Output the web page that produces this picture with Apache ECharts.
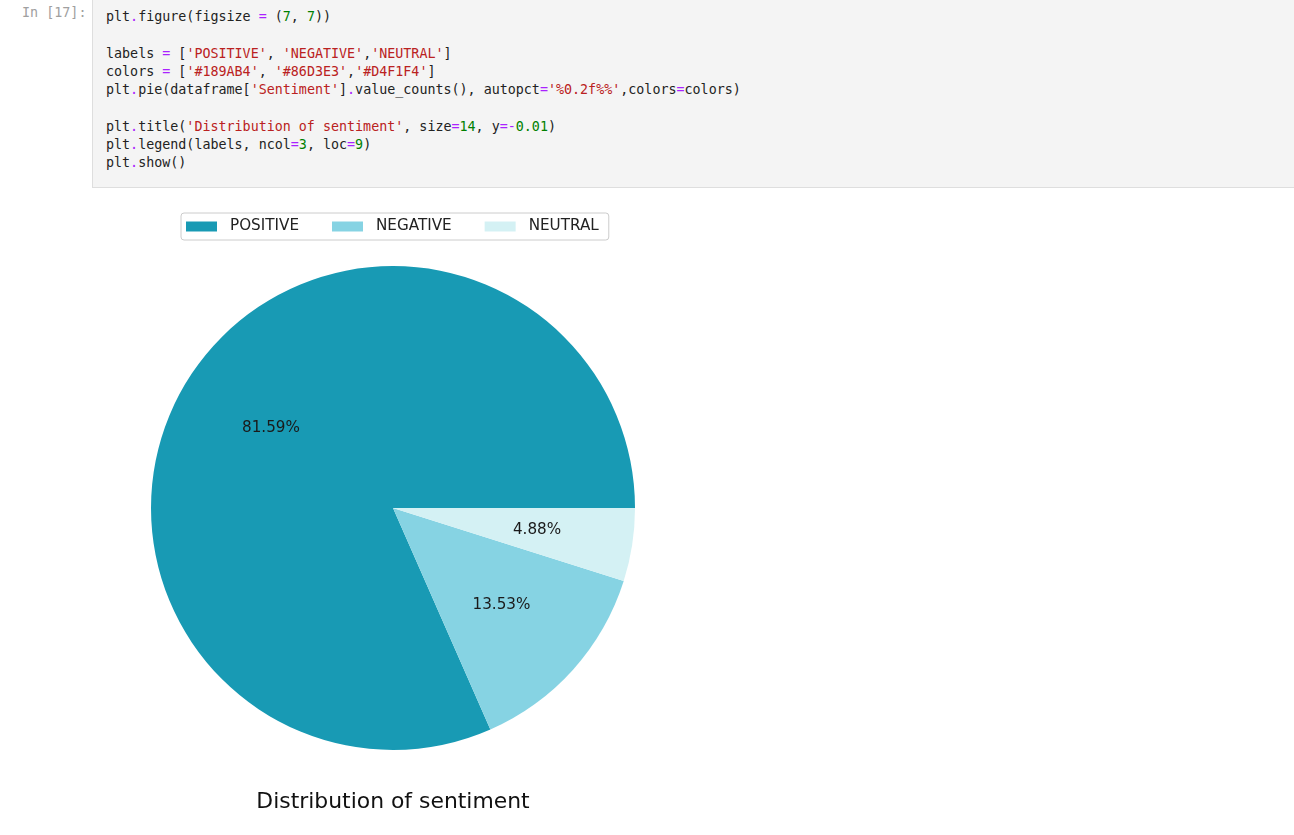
<!DOCTYPE html>
<html>
<head>
<meta charset="utf-8">
<script src="https://cdn.jsdelivr.net/npm/echarts@6/dist/echarts.min.js"></script>
<style>
  html, body { margin: 0; padding: 0; background: #ffffff; width: 1294px; height: 835px; overflow: hidden; }
  #prompt { position: absolute; left: 22px; top: 4px; font-family: "DejaVu Sans Mono", monospace; font-size: 13.4px; color: #a0a0a0; line-height: 18px; }
  #cell { position: absolute; left: 92px; top: -1px; width: 1206px; height: 189px; background: #f4f4f4; border: 1px solid #dedede; box-sizing: border-box; }
  #code { position: absolute; left: 13px; top: 8px; margin: 0; font-family: "DejaVu Sans Mono", monospace; font-size: 13.35px; line-height: 18.25px; color: #222; white-space: pre; }
  .o { color: #aa22ff; } .s { color: #ba2121; } .n { color: #008000; }
  #chart { position: absolute; left: 0; top: 188px; width: 1294px; height: 647px; }
</style>
</head>
<body>
<div id="prompt">In [17]:</div>
<div id="cell"><pre id="code">plt<span class="o">.</span>figure(figsize <span class="o">=</span> (<span class="n">7</span>, <span class="n">7</span>))

labels <span class="o">=</span> [<span class="s">'POSITIVE'</span>, <span class="s">'NEGATIVE'</span>,<span class="s">'NEUTRAL'</span>]
colors <span class="o">=</span> [<span class="s">'#189AB4'</span>, <span class="s">'#86D3E3'</span>,<span class="s">'#D4F1F4'</span>]
plt<span class="o">.</span>pie(dataframe[<span class="s">'Sentiment'</span>]<span class="o">.</span>value_counts(), autopct<span class="o">=</span><span class="s">'%0.2f%%'</span>,colors<span class="o">=</span>colors)

plt<span class="o">.</span>title(<span class="s">'Distribution of sentiment'</span>, size<span class="o">=</span><span class="n">14</span>, y<span class="o">=-</span><span class="n">0.01</span>)
plt<span class="o">.</span>legend(labels, ncol<span class="o">=</span><span class="n">3</span>, loc<span class="o">=</span><span class="n">9</span>)
plt<span class="o">.</span>show()</pre></div>
<div id="chart"></div>
<script>
const labels = ['POSITIVE', 'NEGATIVE', 'NEUTRAL'];
const values = [81.59, 13.53, 4.88];
const colors = ['#189AB4', '#86D3E3', '#D4F1F4'];
const titleText = 'Distribution of sentiment';

const chart = echarts.init(document.getElementById('chart'), null, { renderer: 'canvas' });
const FONT = '"DejaVu Sans", sans-serif';
const cx = 393, cy = 320, R = 242;
const data = labels.map((name, i) => ({ name: name, value: values[i], itemStyle: { color: colors[i] } }));

chart.setOption({
  animation: false,
  backgroundColor: '#ffffff',
  legend: {
    data: labels,
    left: 181, top: 25,
    orient: 'horizontal',
    icon: 'rect',
    itemWidth: 31, itemHeight: 10, itemGap: 33,
    padding: [6, 10, 6, 5],
    borderColor: '#cccccc', borderWidth: 1, borderRadius: 3,
    backgroundColor: 'rgba(255,255,255,0.8)',
    selectedMode: false,
    textStyle: { fontFamily: FONT, fontSize: 15.2, color: '#222', padding: [0, 0, 0, 8], lineHeight: 15 }
  },
  graphic: [{
    type: 'text', x: cx, y: 614,
    style: { text: titleText, fontFamily: FONT, fontSize: 21.9, fill: '#111', textAlign: 'center', textVerticalAlign: 'middle' }
  }],
  series: [{
    type: 'pie',
    center: [cx, cy], radius: [0, R],
    startAngle: 0, clockwise: false,
    minAngle: 0, avoidLabelOverlap: false,
    label: { show: false }, labelLine: { show: false },
    itemStyle: { borderWidth: 0 },
    emphasis: { disabled: true },
    silent: true,
    data: data
  }, {
    type: 'pie',
    center: [cx, cy], radius: [R * 0.18, R],
    startAngle: 0, clockwise: false,
    avoidLabelOverlap: false,
    legendHoverLink: false,
    silent: true,
    itemStyle: { color: 'rgba(0,0,0,0)', borderWidth: 0 },
    emphasis: { disabled: true },
    label: {
      show: true, position: 'inside',
      formatter: p => p.value.toFixed(2) + '%',
      fontFamily: FONT, fontSize: 15.2, color: '#1a1a1a'
    },
    labelLine: { show: false },
    data: labels.map((name, i) => ({ name: name + ' ', value: values[i] }))
  }]
});
</script>
</body>
</html>
